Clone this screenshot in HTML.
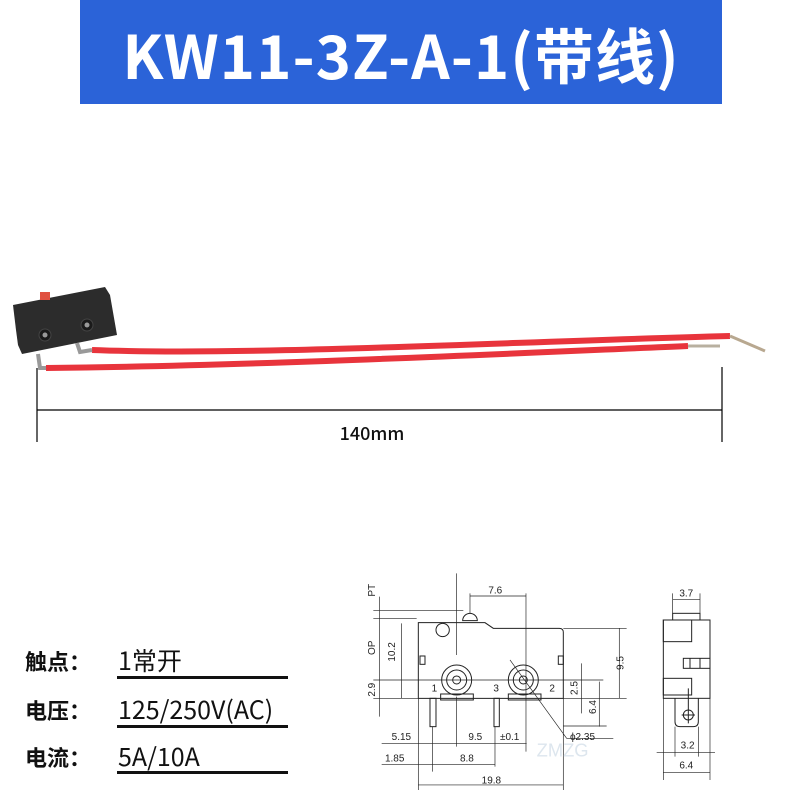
<!DOCTYPE html>
<html><head><meta charset="utf-8"><style>
body{margin:0;width:800px;height:800px;background:#fff;overflow:hidden;position:relative;font-family:"Noto Sans CJK SC",sans-serif}
.hdr{position:absolute;left:80px;top:0;width:642px;height:104px;background:#2b63d8;color:#fff;font-size:60px;font-weight:bold;text-align:center;line-height:108px;font-family:"Noto Sans CJK SC",sans-serif;letter-spacing:1px;white-space:nowrap}
.row{position:absolute;left:25px;font-size:25px;color:#111;line-height:30px;font-family:"Noto Sans CJK SC",sans-serif}
.row b{font-weight:bold;display:inline-block;width:93px;font-size:22px}
.ul{position:absolute;left:117px;width:171px;height:3px;background:#111}
</style></head><body>
<div class="hdr">KW11-3Z-A-1(带线)</div>
<svg width="800" height="800" style="position:absolute;left:0;top:0" font-family="Liberation Sans, sans-serif">
<path d="M92,350 C250,356 500,342 730,336" stroke="#e8343c" stroke-width="6" fill="none"/>
<path d="M46,368 C250,366 500,354 688,346" stroke="#e8343c" stroke-width="6" fill="none"/>
<path d="M730,336 L765,351" stroke="#b8a890" stroke-width="3"/>
<path d="M688,346 L720,346" stroke="#b8b0a0" stroke-width="3"/>
<polygon points="13,305 105,287 110,295 117,335 22,354 18,345 16,330" fill="#2c2c2c"/>
<rect x="40" y="292" width="10" height="8" fill="#e05040"/>
<circle cx="45" cy="335" r="6" fill="#1a1a1a" stroke="#444"/><circle cx="45" cy="335" r="2.5" fill="#999"/>
<circle cx="87" cy="325" r="6" fill="#1a1a1a" stroke="#444"/><circle cx="87" cy="325" r="2.5" fill="#999"/>
<path d="M38,354 L40,368 L46,368" stroke="#999" stroke-width="4" fill="none"/>
<path d="M77,343 L80,352 L92,350" stroke="#999" stroke-width="4" fill="none"/>
<line x1="37" y1="368" x2="37" y2="442" stroke="#000" stroke-width="1.2"/>
<line x1="722" y1="367" x2="722" y2="442" stroke="#000" stroke-width="1.2"/>
<line x1="37" y1="410" x2="722" y2="410" stroke="#000" stroke-width="1.2"/>
<text x="372" y="440" font-size="18" text-anchor="middle" fill="#111" font-family="Noto Sans CJK SC, sans-serif" font-weight="500">140mm</text>
<g transform="translate(350,570) scale(0.3333)" stroke="#222" stroke-width="3" fill="none" font-size="30">
<path d="M205,385 L205,158 L405,158 L430,175 L628,175 Q640,175 640,187 L640,385 Z"/>
<path d="M338,152 A22,22 0 0 1 382,152 Z"/>
<circle cx="278" cy="180" r="20"/>
<rect x="210" y="258" width="15" height="25"/><rect x="625" y="258" width="15" height="25"/>
<circle cx="320" cy="330" r="45"/><circle cx="320" cy="330" r="30"/><circle cx="320" cy="330" r="12"/>
<circle cx="520" cy="330" r="45"/><circle cx="520" cy="330" r="30"/><circle cx="520" cy="330" r="12"/>
<rect x="272" y="372" width="98" height="18"/><rect x="475" y="372" width="98" height="18"/>
<rect x="240" y="385" width="18" height="85"/><rect x="432" y="385" width="16" height="85"/>
<path d="M320,10 V255 M528,70 V545 M320,380 V530 M70,122 H340 M70,145 H200 M70,330 H760 M70,385 H205 M640,175 H830 M640,385 H830 M640,468 H770 M88,80 V440 M155,160 V385 M205,385 V660 M248,470 V605 M640,385 V660 M435,470 V590 M808,175 V385 M695,280 V430 M748,335 V470 M360,70 V130 M360,78 H528 M95,520 H530 M95,583 H435 M205,645 H640 M480,270 L650,505 H790" stroke-width="2"/>
<g fill="#222" stroke="none">
<text x="245" y="365">1</text><text x="430" y="365">3</text><text x="598" y="365">2</text>
<text x="415" y="70">7.6</text><text x="125" y="510">5.15</text><text x="355" y="510">9.5</text><text x="450" y="510">±0.1</text>
<text x="660" y="510">ϕ2.35</text><text x="105" y="575">1.85</text><text x="330" y="575">8.8</text><text x="395" y="640">19.8</text>
<text transform="translate(75,80) rotate(-90)">PT</text>
<text transform="translate(75,255) rotate(-90)">OP</text>
<text transform="translate(135,275) rotate(-90)">10.2</text>
<text transform="translate(75,380) rotate(-90)">2.9</text>
<text transform="translate(820,300) rotate(-90)">9.5</text>
<text transform="translate(683,375) rotate(-90)">2.5</text>
<text transform="translate(738,432) rotate(-90)">6.4</text>
<text x="560" y="560" font-size="55" fill="#dde6ee">ZMZG</text>
</g></g>
<g transform="translate(650,580) scale(0.3333)" stroke="#222" stroke-width="3" fill="none" font-size="30">
<rect x="68" y="100" width="82" height="20"/>
<rect x="40" y="120" width="140" height="235"/>
<rect x="40" y="120" width="85" height="65"/>
<rect x="100" y="235" width="80" height="30"/><path d="M120,235 V265 M150,235 V265"/>
<rect x="40" y="295" width="85" height="50"/>
<path d="M75,355 V425 Q75,440 90,440 H130 Q145,440 145,425 V355"/>
<circle cx="115" cy="405" r="15"/><path d="M95,405 H135 M115,325 V430"/>
<path d="M68,40 V100 M150,40 V100 M68,58 H150 M40,355 V600 M180,355 V600 M75,440 V530 M145,440 V530 M20,518 H195 M40,578 H180" stroke-width="2"/>
<g fill="#222" stroke="none"><text x="88" y="50">3.7</text><text x="92" y="505">3.2</text><text x="88" y="565">6.4</text></g>
</g>
</svg>
<div class="row" style="top:645px"><b>触点：</b>1常开</div>
<div class="ul" style="top:676px"></div>
<div class="row" style="top:694px"><b>电压：</b>125/250V(AC)</div>
<div class="ul" style="top:725px"></div>
<div class="row" style="top:741px"><b>电流：</b>5A/10A</div>
<div class="ul" style="top:771px"></div>
</body></html>
